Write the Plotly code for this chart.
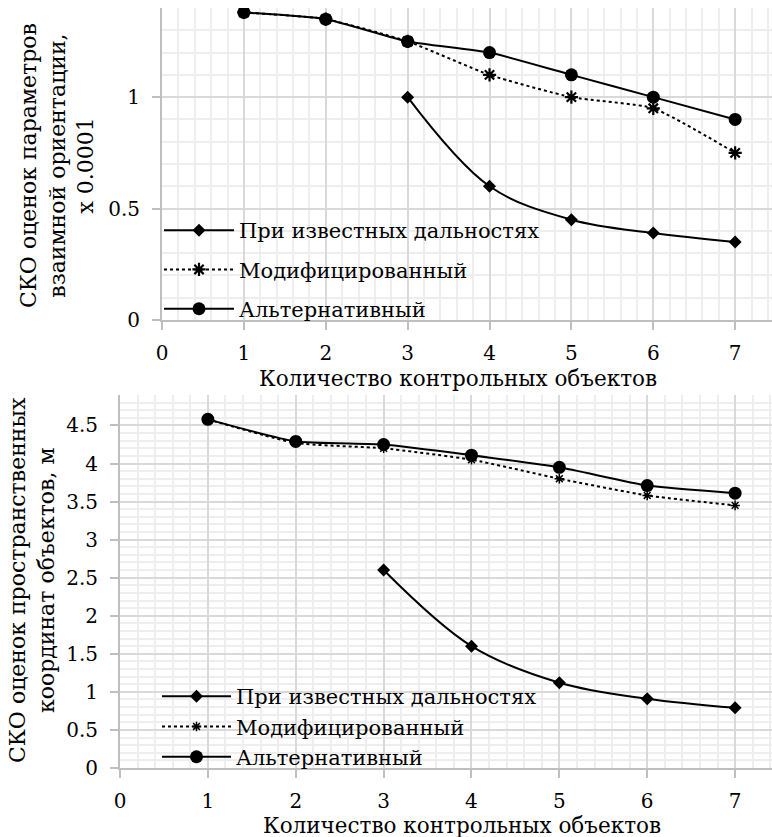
import plotly.graph_objects as go

# ---- data ----
x_vals = [1, 2, 3, 4, 5, 6, 7]
x_known = [3, 4, 5, 6, 7]

names = ["При известных дальностях", "Модифицированный", "Альтернативный"]

top_known = [1.0, 0.6, 0.45, 0.39, 0.35]
top_mod = [1.38, 1.35, 1.25, 1.10, 1.00, 0.95, 0.75]
top_alt = [1.38, 1.35, 1.25, 1.20, 1.10, 1.00, 0.90]

bot_known = [2.6, 1.6, 1.12, 0.91, 0.79]
bot_mod = [4.58, 4.27, 4.20, 4.05, 3.80, 3.58, 3.45]
bot_alt = [4.58, 4.29, 4.25, 4.11, 3.95, 3.71, 3.61]

x_ticks = [0, 1, 2, 3, 4, 5, 6, 7]
top_yticks = [0, 0.5, 1]
bot_yticks = [0, 0.5, 1, 1.5, 2, 2.5, 3, 3.5, 4, 4.5]

x_title = "Количество контрольных объектов"
top_y_title = "СКО оценок параметров<br>взаимной ориентации,<br>х 0.0001"
bot_y_title = "СКО оценок пространственных<br>координат объектов, м"

FONT = "DejaVu Serif"
W, H = 772, 837

fig = go.Figure()

def add_set(xk, known, mod, alt, xa, ya, legend, small_star):
    fig.add_trace(go.Scatter(
        x=xk, y=known, name=names[0], mode="lines+markers",
        line=dict(color="black", width=2, shape="spline", smoothing=1),
        marker=dict(symbol="diamond", size=10, color="black"),
        xaxis=xa, yaxis=ya, legend=legend, legendgroup=legend + "a"))
    fig.add_trace(go.Scatter(
        x=x_vals, y=mod, name=names[1], mode="lines+markers",
        line=dict(color="black", width=2, dash="dot", shape="spline", smoothing=0.5),
        marker=dict(symbol="asterisk-open", size=8 if small_star else 11,
                    line=dict(color="black", width=1.5 if small_star else 2.2)),
        xaxis=xa, yaxis=ya, legend=legend, legendgroup=legend + "b"))
    fig.add_trace(go.Scatter(
        x=x_vals, y=alt, name=names[2], mode="lines+markers",
        line=dict(color="black", width=2, shape="spline", smoothing=0.5),
        marker=dict(symbol="circle", size=13, color="black"),
        xaxis=xa, yaxis=ya, legend=legend, legendgroup=legend + "c"))

add_set(x_known, top_known, top_mod, top_alt, "x", "y", "legend", False)
add_set(x_known, bot_known, bot_mod, bot_alt, "x2", "y2", "legend2", True)

MAJ = "#d9d9d9"
MIN = "#eeeeee"
AX = "#bfbfbf"

def xaxis_cfg(domain_left, rng, anchor):
    return dict(
        domain=[domain_left / W, 1], range=rng, anchor=anchor,
        tickmode="array", tickvals=x_ticks, ticktext=[str(v) for v in x_ticks],
        showgrid=True, gridcolor=MAJ, gridwidth=1.5,
        minor=dict(dtick=0.2, tick0=0, showgrid=True, gridcolor=MIN, gridwidth=1.5),
        showline=True, linecolor=AX, linewidth=2,
        ticks="outside", ticklen=8, tickcolor=AX, tickwidth=2,
        ticklabelstandoff=6, automargin=False,
        tickfont=dict(family=FONT, size=20, color="black"),
        zeroline=False, fixedrange=True)

def yaxis_cfg(ytop, ybot, rng, tickvals, anchor):
    return dict(
        domain=[1 - ybot / H, 1 - ytop / H], range=rng, anchor=anchor,
        tickmode="array", tickvals=tickvals, ticktext=[("%g" % v) for v in tickvals],
        showgrid=True, gridcolor=MAJ, gridwidth=1.5,
        minor=dict(dtick=0.1, tick0=0, showgrid=True, gridcolor=MIN, gridwidth=1.5),
        showline=True, linecolor=AX, linewidth=2,
        ticks="outside", ticklen=8, tickcolor=AX, tickwidth=2,
        ticklabelstandoff=8, automargin=False,
        tickfont=dict(family=FONT, size=20, color="black"),
        zeroline=False, fixedrange=True)

legend_common = dict(
    font=dict(family=FONT, size=21, color="black"),
    bgcolor="rgba(0,0,0,0)", borderwidth=0,
    xanchor="left", yanchor="top",
    traceorder="grouped", itemclick=False, itemdoubleclick=False)

fig.update_layout(
    width=W, height=H,
    margin=dict(l=0, r=0, t=0, b=0, autoexpand=False),
    paper_bgcolor="white", plot_bgcolor="white",
    font=dict(family=FONT, size=20, color="black"),
    showlegend=True,
    xaxis=xaxis_cfg(162, [0, 7.45], "y"),
    yaxis=yaxis_cfg(8, 320, [0, 1.4], top_yticks, "x"),
    xaxis2=xaxis_cfg(120, [0, 7.42], "y2"),
    yaxis2=yaxis_cfg(395, 768, [0, 4.9], bot_yticks, "x2"),
    legend=dict(legend_common, x=159 / W, y=1 - 210 / H, itemwidth=70, tracegroupgap=9),
    legend2=dict(legend_common, x=157 / W, y=1 - 676 / H, itemwidth=69, tracegroupgap=0),
    annotations=[
        dict(text=x_title, x=458 / W, y=1 - 378 / H, xref="paper", yref="paper",
             showarrow=False, xanchor="center", yanchor="middle",
             font=dict(family=FONT, size=21.5, color="black")),
        dict(text=x_title, x=462 / W, y=1 - 825 / H, xref="paper", yref="paper",
             showarrow=False, xanchor="center", yanchor="middle",
             font=dict(family=FONT, size=21.5, color="black")),
        dict(text=top_y_title, x=57 / W, y=1 - 166 / H, xref="paper", yref="paper",
             showarrow=False, xanchor="center", yanchor="middle", textangle=-90,
             font=dict(family=FONT, size=22, color="black")),
        dict(text=bot_y_title, x=32 / W, y=1 - 580 / H, xref="paper", yref="paper",
             showarrow=False, xanchor="center", yanchor="middle", textangle=-90,
             font=dict(family=FONT, size=22, color="black")),
    ],
)

fig.write_html("out.html", config={"displayModeBar": False})
